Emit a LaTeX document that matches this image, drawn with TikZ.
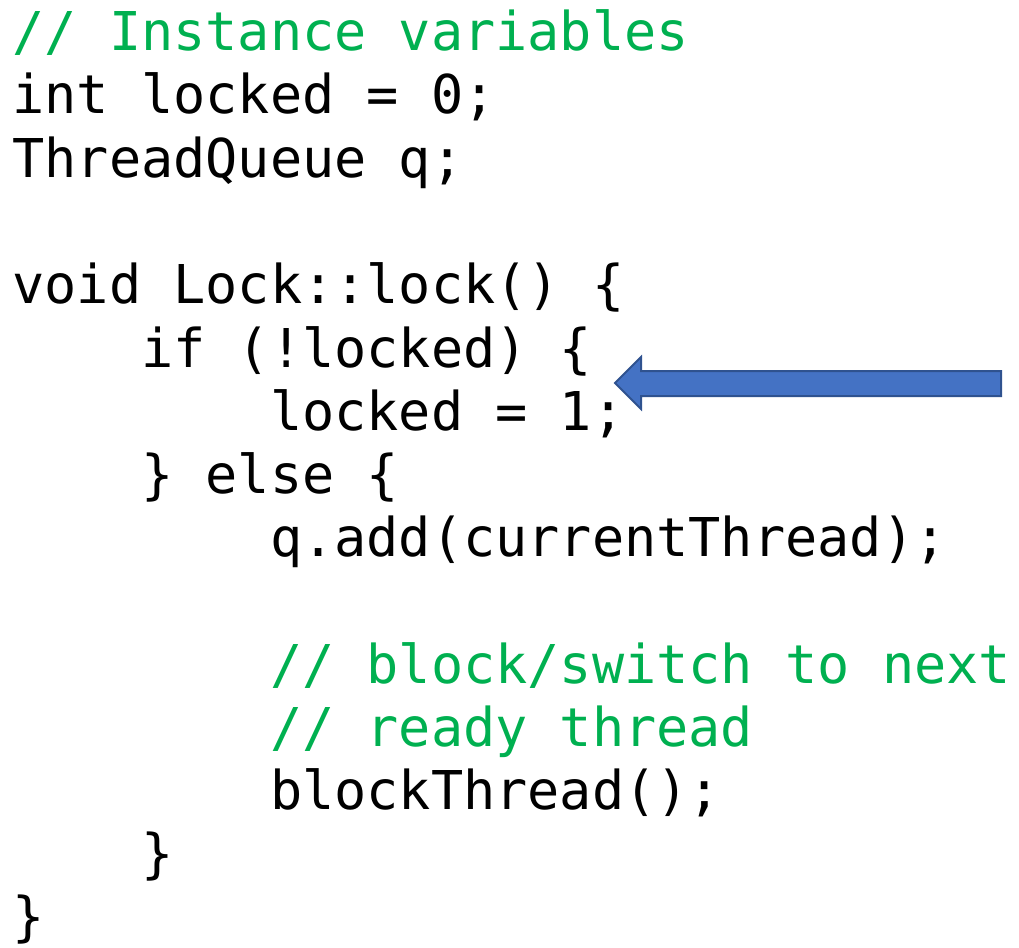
\documentclass[tikz,border=0pt]{standalone}
\usepackage{fontspec}
\setmonofont{DejaVu Sans Mono}
\definecolor{cmtgreen}{HTML}{00B050}
\definecolor{arrowblue}{HTML}{4472C4}
\definecolor{arrowedge}{HTML}{2F528F}
\begin{document}
\begin{tikzpicture}[x=0.5pt, y=-0.5pt,
    code/.style={anchor=base west, inner sep=0pt, font=\ttfamily\fontsize{26.75}{31}\selectfont},
    comment/.style={code, text=cmtgreen}]

    \useasboundingbox (0,0) rectangle (1019,948);

    %% Instance variables

    \node[comment] (c1) at (12,50) {// Instance variables};
    \node[code] (l1) at (12,113) {int locked = 0;};
    \node[code] (l2) at (12,177) {ThreadQueue q;};

    %% lock()

    \node[code] (l3) at (12,303) {void Lock::lock() \{};
    \node[code] (l4) at (12,367) {\ \ \ \ if (!locked) \{};
    \node[code] (l5) at (12,430) {\ \ \ \ \ \ \ \ locked = 1;};
    \node[code] (l6) at (12,493) {\ \ \ \ \} else \{};
    \node[code] (l7) at (12,556) {\ \ \ \ \ \ \ \ q.add(currentThread);};

    \node[comment] (c2) at (12,683) {\ \ \ \ \ \ \ \ // block/switch to next};
    \node[comment] (c3) at (12,746) {\ \ \ \ \ \ \ \ // ready thread};
    \node[code] (l8) at (12,809) {\ \ \ \ \ \ \ \ blockThread();};
    \node[code] (l9) at (12,872) {\ \ \ \ \}};
    \node[code] (l10) at (12,935) {\}};

    %% Block arrow pointing at the current line

    \coordinate (tip) at (615,383);
    \draw[fill=arrowblue, draw=arrowedge, line width=1pt, line join=miter]
        (tip) -- (641,357) -- (641,371) -- (1001,371) -- (1001,396)
        -- (641,396) -- (641,409) -- cycle;

\end{tikzpicture}
\end{document}
